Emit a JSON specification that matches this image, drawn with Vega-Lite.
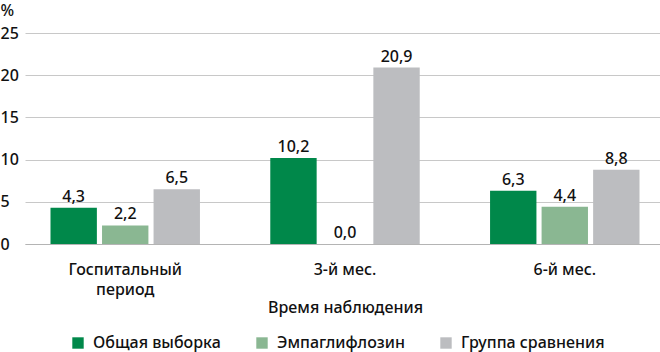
{
  "$schema": "https://vega.github.io/schema/vega-lite/v6.json",
  "autosize": {"type": "none"},
  "padding": {"left": 25, "top": 33, "right": 0, "bottom": 108},
  "width": 640,
  "height": 211,
  "config": {
    "view": {"stroke": null},
    "font": "Noto Sans",
    "locale": {"number": {"decimal": ",", "thousands": " ", "grouping": [3], "currency": ["", ""]}}
  },
  "data": {
    "values": [
      {"period": "Госпитальный период", "group": "Общая выборка", "value": 4.3},
      {"period": "Госпитальный период", "group": "Эмпаглифлозин", "value": 2.2},
      {"period": "Госпитальный период", "group": "Группа сравнения", "value": 6.5},
      {"period": "3-й мес.", "group": "Общая выборка", "value": 10.2},
      {"period": "3-й мес.", "group": "Эмпаглифлозин", "value": 0.0},
      {"period": "3-й мес.", "group": "Группа сравнения", "value": 20.9},
      {"period": "6-й мес.", "group": "Общая выборка", "value": 6.3},
      {"period": "6-й мес.", "group": "Эмпаглифлозин", "value": 4.4},
      {"period": "6-й мес.", "group": "Группа сравнения", "value": 8.8}
    ]
  },
  "encoding": {
    "x": {
      "field": "period",
      "type": "nominal",
      "sort": ["Госпитальный период", "3-й мес.", "6-й мес."],
      "scale": {"paddingInner": 0.32, "paddingOuter": 0.116},
      "axis": {
        "title": "Время  наблюдения",
        "labelAngle": 0,
        "labelExpr": "datum.label == 'Госпитальный период' ? ['Госпитальный', 'период'] : datum.label",
        "labelFontSize": 16,
        "labelFontWeight": 500,
        "labelColor": "#111111",
        "labelPadding": 17,
        "labelLineHeight": 20,
        "ticks": false,
        "domain": true,
        "domainColor": "#b4b4b4",
        "titleFontSize": 16,
        "titleFontWeight": 500,
        "titleColor": "#111111",
        "titleBaseline": "alphabetic",
        "titleY": 68
      }
    },
    "xOffset": {
      "field": "group",
      "type": "nominal",
      "sort": ["Общая выборка", "Эмпаглифлозин", "Группа сравнения"],
      "scale": {"paddingInner": 0.1, "paddingOuter": 0}
    },
    "y": {
      "field": "value",
      "type": "quantitative",
      "scale": {"domain": [0, 25]},
      "axis": {
        "values": [0, 5, 10, 15, 20, 25],
        "ticks": false,
        "domain": false,
        "labelAlign": "left",
        "labelPadding": 25,
        "labelFontSize": 16,
        "labelFontWeight": 500,
        "labelColor": "#111111",
        "gridColor": "#c8c8c8",
        "title": "%",
        "titleAngle": 0,
        "titleAlign": "left",
        "titleX": -25,
        "titleY": -18,
        "titleBaseline": "alphabetic",
        "titleFontWeight": 500,
        "titleFontSize": 16,
        "titleColor": "#111111"
      }
    }
  },
  "layer": [
    {
      "mark": {"type": "bar"},
      "encoding": {
        "color": {
          "field": "group",
          "type": "nominal",
          "sort": ["Общая выборка", "Эмпаглифлозин", "Группа сравнения"],
          "scale": {"range": ["#00884a", "#8ab792", "#bcbdc0"]},
          "legend": {
            "title": null,
            "orient": "none",
            "direction": "horizontal",
            "legendX": 45,
            "legendY": 302,
            "symbolType": "square",
            "symbolSize": 130,
            "symbolStrokeWidth": 0,
            "labelFontSize": 16,
            "labelFontWeight": 500,
            "labelColor": "#111111",
            "labelOffset": 7,
            "columnPadding": 33
          }
        }
      }
    },
    {
      "mark": {"type": "text", "baseline": "alphabetic", "dy": -6, "fontSize": 16, "fontWeight": 500, "color": "#111111"},
      "encoding": {
        "text": {"field": "value", "type": "quantitative", "format": ".1f"}
      }
    }
  ]
}
